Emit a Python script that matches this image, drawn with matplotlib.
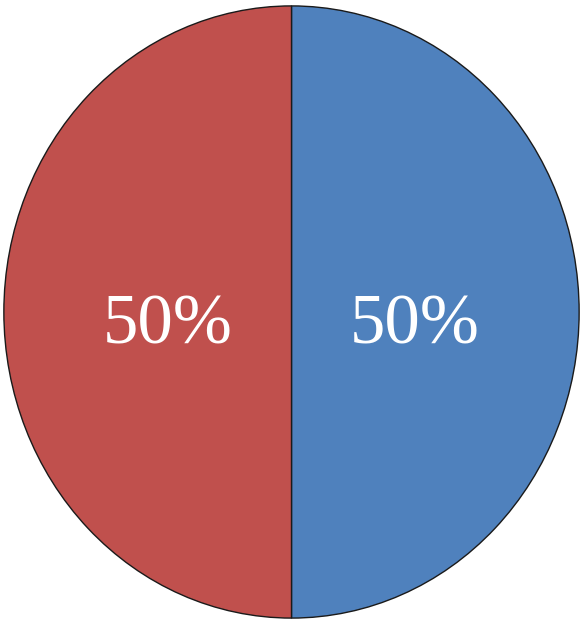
import matplotlib
matplotlib.use('Agg')
import matplotlib.pyplot as plt
import numpy as np

# slice data
labels = ['Blue', 'Red']
shares = [50, 50]
colors = ['#4F81BD', '#C0504D']

fig = plt.figure(figsize=(5.82, 6.2), dpi=100)
# pie is slightly stretched vertically in the reference
ax = fig.add_axes([3 / 582, 1 / 620, 577 / 582, 614 / 620])

wedges, texts = ax.pie(
    shares,
    colors=colors,
    startangle=90,
    counterclock=False,
    radius=1.0,
    wedgeprops=dict(edgecolor='#1a1a1a', linewidth=1.0),
)

# percent labels
for w, val in zip(wedges, shares):
    ang = np.deg2rad((w.theta1 + w.theta2) / 2)
    ax.text(0.43 * np.cos(ang), 0.43 * np.sin(ang) - 0.045, f'{val}%',
            ha='center', va='center', color='white',
            fontsize=51, family='Liberation Serif')

ax.set_xlim(-1.003, 1.003)
ax.set_ylim(-1.003, 1.003)
ax.set_aspect('auto')
ax.axis('off')

fig.savefig('out.png', dpi=100)
